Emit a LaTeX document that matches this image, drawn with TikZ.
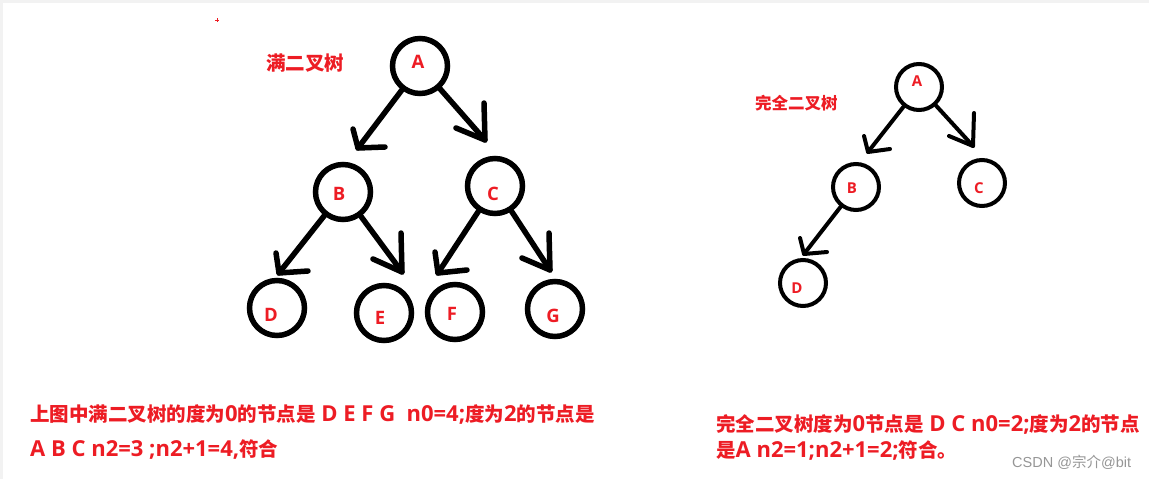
\documentclass[tikz,border=0pt]{standalone}
\usepackage{fontspec}
\setmainfont{Open Sans}
\newfontfamily\cjk{Noto Sans CJK SC}
\newfontfamily\wmfont{Liberation Sans}
\newcommand\zh[1]{{\cjk\fontsize{19.5}{24}\selectfont #1}}
\definecolor{pred}{RGB}{237,28,36}
\definecolor{wmgray}{RGB}{150,150,150}
\definecolor{strip}{RGB}{242,242,242}
\begin{document}
\begin{tikzpicture}[x=1pt,y=-1pt,
  circL/.style={circle,draw,line width=5.5pt,minimum size=55pt,inner sep=0pt},
  circR/.style={circle,draw,line width=4pt,minimum size=46pt,inner sep=0pt},
  edgeL/.style={line width=5.5pt,line cap=round,line join=round},
  edgeR/.style={line width=4pt,line cap=round,line join=round},
  letL/.style={text=pred,font=\bfseries\fontsize{18.5}{20}\selectfont,inner sep=0pt},
  letR/.style={text=pred,font=\bfseries\fontsize{15}{17}\selectfont,inner sep=0pt},
  txt/.style={text=pred,font=\bfseries\fontsize{22}{24}\selectfont,inner sep=0pt,anchor=base west},
  ]
\useasboundingbox (0,0) rectangle (1149,479);
\fill[white] (0,0) rectangle (1149,479);
\fill[strip] (0,0) rectangle (1149,3);
\fill[strip] (0,0) rectangle (3,479);
\draw[pred,line width=1pt] (215,20) -- (219,20) (217,18) -- (217,22);

% ---------- full binary tree ----------
\node[circL] (A) at (420,66) {};
\node[circL] (B) at (343,192) {};
\node[circL] (C) at (495,186) {};
\node[circL] (D) at (277,308) {};
\node[circL] (E) at (384,313) {};
\node[circL] (F) at (455,312) {};
\node[circL] (G) at (555,309) {};
\node[letL] (Al) at (418,62) {A};
\node[letL] (Bl) at (339,194) {B};
\node[letL] (Cl) at (493,194) {C};
\node[letL] (Dl) at (271,315) {D};
\node[letL] (El) at (380,318) {E};
\node[letL] (Fl) at (452,314) {F};
\node[letL] (Gl) at (553,316) {G};

\coordinate (tAB) at (358,148); \coordinate (aAB1) at (353,129); \coordinate (aAB2) at (385,147);
\coordinate (tAC) at (485,140); \coordinate (aAC1) at (484,103); \coordinate (aAC2) at (456,128);
\coordinate (tBD) at (279,273); \coordinate (aBD1) at (276,253); \coordinate (aBD2) at (308,271);
\coordinate (tBE) at (402,272); \coordinate (aBE1) at (401,233); \coordinate (aBE2) at (373,259);
\coordinate (tCF) at (438,273); \coordinate (aCF1) at (435,252); \coordinate (aCF2) at (467,270);
\coordinate (tCG) at (550,270); \coordinate (aCG1) at (549,233); \coordinate (aCG2) at (522,258);

\draw[edgeL] (A) -- (tAB); \draw[edgeL] (aAB1) -- (tAB) -- (aAB2);
\draw[edgeL] (A) -- (tAC); \draw[edgeL] (aAC1) -- (tAC) -- (aAC2);
\draw[edgeL] (B) -- (tBD); \draw[edgeL] (aBD1) -- (tBD) -- (aBD2);
\draw[edgeL] (B) -- (tBE); \draw[edgeL] (aBE1) -- (tBE) -- (aBE2);
\draw[edgeL] (C) -- (tCF); \draw[edgeL] (aCF1) -- (tCF) -- (aCF2);
\draw[edgeL] (C) -- (tCG); \draw[edgeL] (aCG1) -- (tCG) -- (aCG2);

\node[txt,anchor=west,font=\bfseries\fontsize{19.5}{24}\selectfont] (lab1) at (266,63) {\cjk 满二叉树};

% ---------- complete binary tree ----------
\node[circR] (rA) at (919,87) {};
\node[circR] (rB) at (856,187) {};
\node[circR] (rC) at (982,183) {};
\node[circR] (rD) at (803,283) {};
\node[letR] (rAl) at (917,81) {A};
\node[letR] (rBl) at (852,188) {B};
\node[letR] (rCl) at (979,188) {C};
\node[letR] (rDl) at (797,288) {D};

\coordinate (rtAB) at (868,152); \coordinate (raAB1) at (864,136); \coordinate (raAB2) at (890,149);
\coordinate (rtAC) at (973,146); \coordinate (raAC1) at (974,113); \coordinate (raAC2) at (949,136);
\coordinate (rtBD) at (804,254); \coordinate (raBD1) at (800,238); \coordinate (raBD2) at (827,252);

\draw[edgeR] (rA) -- (rtAB); \draw[edgeR] (raAB1) -- (rtAB) -- (raAB2);
\draw[edgeR] (rA) -- (rtAC); \draw[edgeR] (raAC1) -- (rtAC) -- (raAC2);
\draw[edgeR] (rB) -- (rtBD); \draw[edgeR] (raBD1) -- (rtBD) -- (raBD2);

\node[txt,anchor=west,font=\bfseries\fontsize{16.5}{20}\selectfont] (lab2) at (755,103) {\cjk 完全二叉树};

% ---------- texts ----------
\node[txt] (t1) at (30,421) {\zh{上图中满二叉树的度为}0\zh{的节点是} D E F G\ \ n0=4;\zh{度为}2\zh{的节点是}};
\node[txt] (t2) at (30,456) {A B C n2=3 ;n2+1=4,\zh{符合}};
\node[txt] (t3) at (716,431) {\zh{完全二叉树度为}0\zh{节点是} D C n0=2;\zh{度为}2\zh{的节点}};
\node[txt] (t4) at (716,457) {\zh{是}A n2=1;n2+1=2;\zh{符合。}};
\node[anchor=base west,inner sep=0pt,text=wmgray,font=\wmfont\fontsize{14.5}{16}\selectfont] (wm) at (1012,467) {CSDN @{\cjk 宗介}@bit};
\end{tikzpicture}
\end{document}
